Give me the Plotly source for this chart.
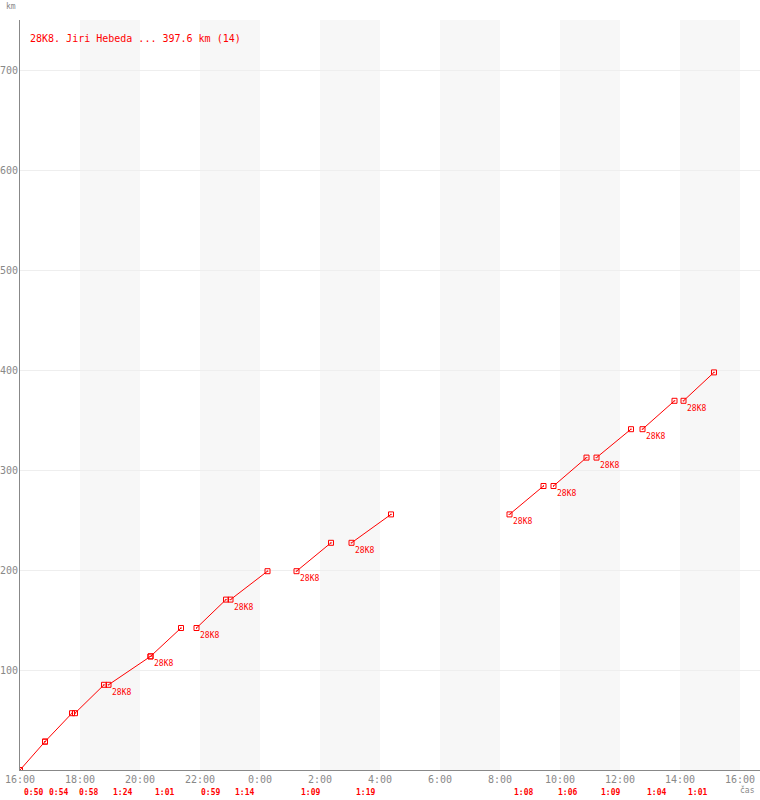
import plotly.graph_objects as go
from datetime import datetime, timedelta

# ---- data ----
title_text = "28K8. Jiri Hebeda ... 397.6 km (14)"
lap_start = ["2000-01-01 16:00", "2000-01-01 16:50", "2000-01-01 17:50", "2000-01-01 18:57",
             "2000-01-01 20:21", "2000-01-01 21:53", "2000-01-01 23:01", "2000-01-02 01:13",
             "2000-01-02 03:03", "2000-01-02 08:19", "2000-01-02 09:47", "2000-01-02 11:13",
             "2000-01-02 12:45", "2000-01-02 14:07"]
lap_minutes = [50, 54, 58, 84, 61, 59, 74, 69, 79, 68, 66, 69, 64, 61]
lap_labels = ["0:50", "0:54", "0:58", "1:24", "1:01", "0:59", "1:14",
              "1:09", "1:19", "1:08", "1:06", "1:09", "1:04", "1:01"]
lap_km = [28.4, 28.4, 28.4, 28.4, 28.4, 28.4, 28.4, 28.4, 28.4, 28.4, 28.4, 28.4, 28.4, 28.4]
stop_label = [0, 0, 0, 1, 1, 1, 1, 1, 1, 1, 1, 1, 1, 1]
stop_text = "28K8"
y_ticks = [100, 200, 300, 400, 500, 600, 700]
shade_band_starts = ["2000-01-01 18:00", "2000-01-01 22:00", "2000-01-02 02:00",
                     "2000-01-02 06:00", "2000-01-02 10:00", "2000-01-02 14:00"]

RED = "#ff0000"
GRAY = "#888888"
FONT = "DejaVu Sans Mono"
fmt = "%Y-%m-%d %H:%M"

starts = [datetime.strptime(s, fmt) for s in lap_start]
ends = [s + timedelta(minutes=m) for s, m in zip(starts, lap_minutes)]
km_start = []
acc = 0.0
for d in lap_km:
    km_start.append(acc)
    acc += d
km_end = [k + d for k, d in zip(km_start, lap_km)]

xs, ys = [], []
for s, e, k0, k1 in zip(starts, ends, km_start, km_end):
    xs += [s, e, None]
    ys += [k0, k1, None]

fig = go.Figure()
fig.add_trace(go.Scatter(
    x=xs, y=ys, mode="lines+markers",
    line=dict(color=RED, width=1),
    marker=dict(symbol="square-open-dot", size=5, color=RED, line=dict(width=1, color=RED)),
    hoverinfo="skip", showlegend=False,
))

annotations = []
for s, k, f in zip(starts, km_start, stop_label):
    if f:
        annotations.append(dict(x=s, y=k, xref="x", yref="y", text=stop_text, showarrow=False,
                                xanchor="left", yanchor="top", xshift=1, yshift=-1,
                                font=dict(family=FONT, size=8, color=RED)))
for s, t in zip(starts, lap_labels):
    annotations.append(dict(x=s, y=0, xref="x", yref="paper", text="<b>" + t + "</b>",
                            showarrow=False, xanchor="left", yanchor="middle",
                            xshift=2, yshift=-22, font=dict(family=FONT, size=8, color=RED)))
for v in y_ticks:
    annotations.append(dict(x=0, y=v, xref="paper", yref="y", text=str(v), showarrow=False,
                            xanchor="right", yanchor="middle", xshift=-1, borderpad=0,
                            font=dict(family=FONT, size=10, color=GRAY)))
annotations.append(dict(x=0, y=1, xref="paper", yref="paper", text=title_text, showarrow=False,
                        xanchor="left", yanchor="middle", xshift=8, yshift=-18,
                        font=dict(family=FONT, size=10, color=RED)))
annotations.append(dict(x=0, y=1, xref="paper", yref="paper", text="km", showarrow=False,
                        xanchor="left", yanchor="middle", xshift=-16, yshift=14,
                        font=dict(family=FONT, size=8, color=GRAY)))
annotations.append(dict(x=1, y=0, xref="paper", yref="paper", text="čas", showarrow=False,
                        xanchor="right", yanchor="middle", xshift=-3, yshift=-20,
                        font=dict(family=FONT, size=8, color=GRAY)))

shapes = []
for b in shade_band_starts:
    b0 = datetime.strptime(b, fmt)
    shapes.append(dict(type="rect", xref="x", yref="paper", x0=b0, x1=b0 + timedelta(hours=2),
                       y0=0, y1=1, fillcolor="#f7f7f7", line=dict(width=0), layer="below"))

base = starts[0]
fig.update_layout(
    width=760, height=800,
    margin=dict(l=20, r=0, t=20, b=30),
    paper_bgcolor="white", plot_bgcolor="white",
    annotations=annotations, shapes=shapes,
    font=dict(family=FONT, size=10, color=GRAY),
    xaxis=dict(range=[base, base + timedelta(hours=24, minutes=40)],
               tick0=base, dtick=7200000, tickformat="%-H:%M",
               showgrid=False, zeroline=False, showline=True, linecolor=GRAY, linewidth=1,
               ticks="", tickfont=dict(family=FONT, size=10, color=GRAY), automargin=False),
    yaxis=dict(range=[0, 750], tickvals=y_ticks, showgrid=True, gridcolor="#eeeeee", gridwidth=1,
               zeroline=False, showline=True, linecolor=GRAY, linewidth=1, ticks="",
               showticklabels=False, automargin=False),
)
fig.write_html("out.html", config={"displayModeBar": False},
               post_script="document.body.style.margin='0';document.body.style.overflow='hidden';")
